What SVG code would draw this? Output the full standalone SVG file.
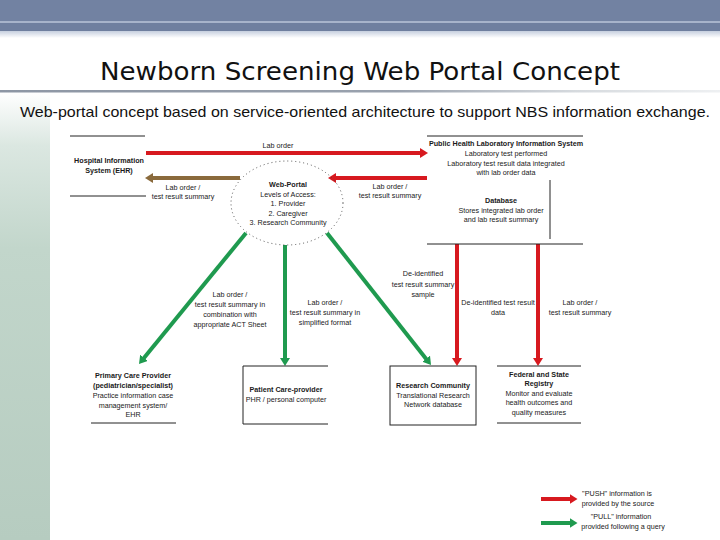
<svg xmlns="http://www.w3.org/2000/svg" width="720" height="540" viewBox="0 0 720 540">
<defs>
<linearGradient id="leftbar" x1="0" y1="0" x2="0" y2="1">
<stop offset="0" stop-color="#ffffff"/>
<stop offset="0.12" stop-color="#dbe7e1"/>
<stop offset="0.35" stop-color="#c2d6cb"/>
<stop offset="1" stop-color="#b6ccc0"/>
</linearGradient>
<linearGradient id="fadeTop" x1="0" y1="0" x2="0" y2="1">
<stop offset="0" stop-color="#c6cfdf"/>
<stop offset="1" stop-color="#ffffff"/>
</linearGradient>
<linearGradient id="rule" x1="0" y1="0" x2="1" y2="0">
<stop offset="0" stop-color="#8d96a4"/>
<stop offset="0.55" stop-color="#9aa2ae"/>
<stop offset="0.8" stop-color="#d6dade"/>
<stop offset="1" stop-color="#eef0f2"/>
</linearGradient>
<marker id="hRed" markerUnits="userSpaceOnUse" markerWidth="8" markerHeight="10" refX="1.5" refY="5" orient="auto" viewBox="0 0 8 10"><path d="M0,0 L8,5 L0,10 z" fill="#d7191f"/></marker>
<marker id="hGreen" markerUnits="userSpaceOnUse" markerWidth="8" markerHeight="10" refX="1.5" refY="5" orient="auto" viewBox="0 0 8 10"><path d="M0,0 L8,5 L0,10 z" fill="#1f9a4f"/></marker>
<marker id="hBrown" markerUnits="userSpaceOnUse" markerWidth="8" markerHeight="10" refX="1.5" refY="5" orient="auto" viewBox="0 0 8 10"><path d="M0,0 L8,5 L0,10 z" fill="#8a6a3c"/></marker>
</defs>
<style>
text{font-family:"Liberation Sans",Arial,sans-serif;font-size:7.2px;fill:#1a1a1a;text-anchor:middle}
.b{font-weight:bold}
.ln{stroke:#222;stroke-width:1;fill:none}
.red{stroke:#d7191f;stroke-width:4;fill:none;marker-end:url(#hRed)}
.green{stroke:#1f9a4f;stroke-width:4;fill:none;marker-end:url(#hGreen)}
.brown{stroke:#8a6a3c;stroke-width:4;fill:none;marker-end:url(#hBrown)}
</style>
<rect x="0" y="0" width="720" height="540" fill="#ffffff"/>
<!-- header band -->
<rect x="0" y="0" width="720" height="21" fill="#7282a2"/>
<rect x="0" y="21" width="720" height="2" fill="#a7b3ca"/>
<rect x="0" y="23" width="720" height="8" fill="#6f7f9f"/>
<rect x="0" y="31" width="720" height="7" fill="url(#fadeTop)"/>
<rect x="0" y="92" width="50" height="448" fill="url(#leftbar)"/>
<rect x="0" y="90" width="720" height="2.5" fill="url(#rule)"/>
<text x="360" y="80" style="font-family:'DejaVu Sans',sans-serif;font-size:25px;font-weight:normal;fill:#111" textLength="520" lengthAdjust="spacingAndGlyphs">Newborn Screening Web Portal Concept</text>
<text x="365" y="117" style="font-size:15px;fill:#111" textLength="690" lengthAdjust="spacingAndGlyphs">Web-portal concept based on service-oriented architecture to support NBS information exchange.</text>

<g id="connectors">
<line class="red" x1="146" y1="153" x2="421.5" y2="153"/>
<line class="red" x1="427" y1="178" x2="334.5" y2="178"/>
<line class="brown" x1="240" y1="178" x2="151.5" y2="178"/>
<line class="green" x1="246" y1="233" x2="143.1" y2="359"/>
<line class="green" x1="285" y1="245" x2="285" y2="359.5"/>
<line class="green" x1="327" y1="233" x2="427" y2="359.9"/>
<line class="red" x1="457" y1="244" x2="457" y2="359.5"/>
<line class="red" x1="538" y1="244" x2="538" y2="359.5"/>
<text x="278" y="148">Lab order</text>
<text x="183" y="190">Lab order /</text>
<text x="183" y="199">test result summary</text>
<text x="390" y="189">Lab order /</text>
<text x="390" y="198">test result summary</text>
<text x="230" y="297">Lab order /</text>
<text x="230" y="307">test result summary in</text>
<text x="230" y="317">combination with</text>
<text x="230" y="327">appropriate ACT Sheet</text>
<text x="325" y="305">Lab order /</text>
<text x="325" y="315">test result summary in</text>
<text x="325" y="325">simplified format</text>
<text x="423" y="276">De-identified</text>
<text x="423" y="287">test result summary</text>
<text x="423" y="297">sample</text>
<text x="498" y="305">De-identified test result</text>
<text x="498" y="315">data</text>
<text x="580" y="305">Lab order /</text>
<text x="580" y="315">test result summary</text>
</g>

<g id="hospital">
<line class="ln" x1="70" y1="136" x2="145" y2="136"/>
<line class="ln" x1="70" y1="196" x2="146" y2="196"/>
<text class="b" x="109" y="163">Hospital Information</text>
<text class="b" x="109" y="173">System (EHR)</text>
</g>

<g id="webportal">
<ellipse cx="287" cy="203" rx="56" ry="42" fill="none" stroke="#444" stroke-width="0.9" stroke-dasharray="1 3"/>
<text class="b" x="288" y="187">Web-Portal</text>
<text x="288" y="197">Levels of Access:</text>
<text x="288" y="206">1. Provider</text>
<text x="288" y="216">2. Caregiver</text>
<text x="288" y="225">3. Research Community</text>
</g>

<g id="publichealth">
<line class="ln" x1="427" y1="136" x2="583" y2="136"/>
<line class="ln" x1="427" y1="244" x2="583" y2="244"/>
<line class="ln" x1="550" y1="180" x2="550" y2="239"/>
<text class="b" x="506" y="146">Public Health Laboratory Information System</text>
<text x="506" y="156">Laboratory test performed</text>
<text x="506" y="166">Laboratory test result data integrated</text>
<text x="506" y="175">with lab order data</text>
<text class="b" x="501" y="203">Database</text>
<text x="501" y="213">Stores integrated lab order</text>
<text x="501" y="222">and lab result summary</text>
</g>

<g id="primarycare">
<line class="ln" x1="91" y1="423" x2="176" y2="423"/>
<text class="b" x="133" y="378">Primary Care Provider</text>
<text class="b" x="133" y="388">(pediatrician/specialist)</text>
<text x="133" y="398">Practice information case</text>
<text x="133" y="408">management system/</text>
<text x="133" y="417">EHR</text>
</g>

<g id="patient">
<polyline class="ln" points="328,366 243,366 243,424 328,424"/>
<text class="b" x="286" y="392">Patient Care-provider</text>
<text x="286" y="402">PHR / personal computer</text>
</g>

<g id="research">
<rect class="ln" x="390" y="366" width="86" height="59"/>
<text class="b" x="433" y="388">Research Community</text>
<text x="433" y="398">Translational Research</text>
<text x="433" y="407">Network database</text>
</g>

<g id="registry">
<line class="ln" x1="497" y1="366" x2="581" y2="366"/>
<line class="ln" x1="497" y1="423" x2="581" y2="423"/>
<text class="b" x="539" y="377">Federal and State</text>
<text class="b" x="539" y="386">Registry</text>
<text x="539" y="396">Monitor and evaluate</text>
<text x="539" y="405">health outcomes and</text>
<text x="539" y="415">quality measures</text>
</g>

<g id="legend">
<line class="red" x1="541" y1="499" x2="571" y2="499"/>
<line class="green" x1="541" y1="523" x2="571" y2="523"/>
<text x="617" y="496">"PUSH" information is</text>
<text x="618" y="506">provided by the source</text>
<text x="621" y="519">"PULL" information</text>
<text x="623" y="529">provided following a query</text>
</g>
</svg>
